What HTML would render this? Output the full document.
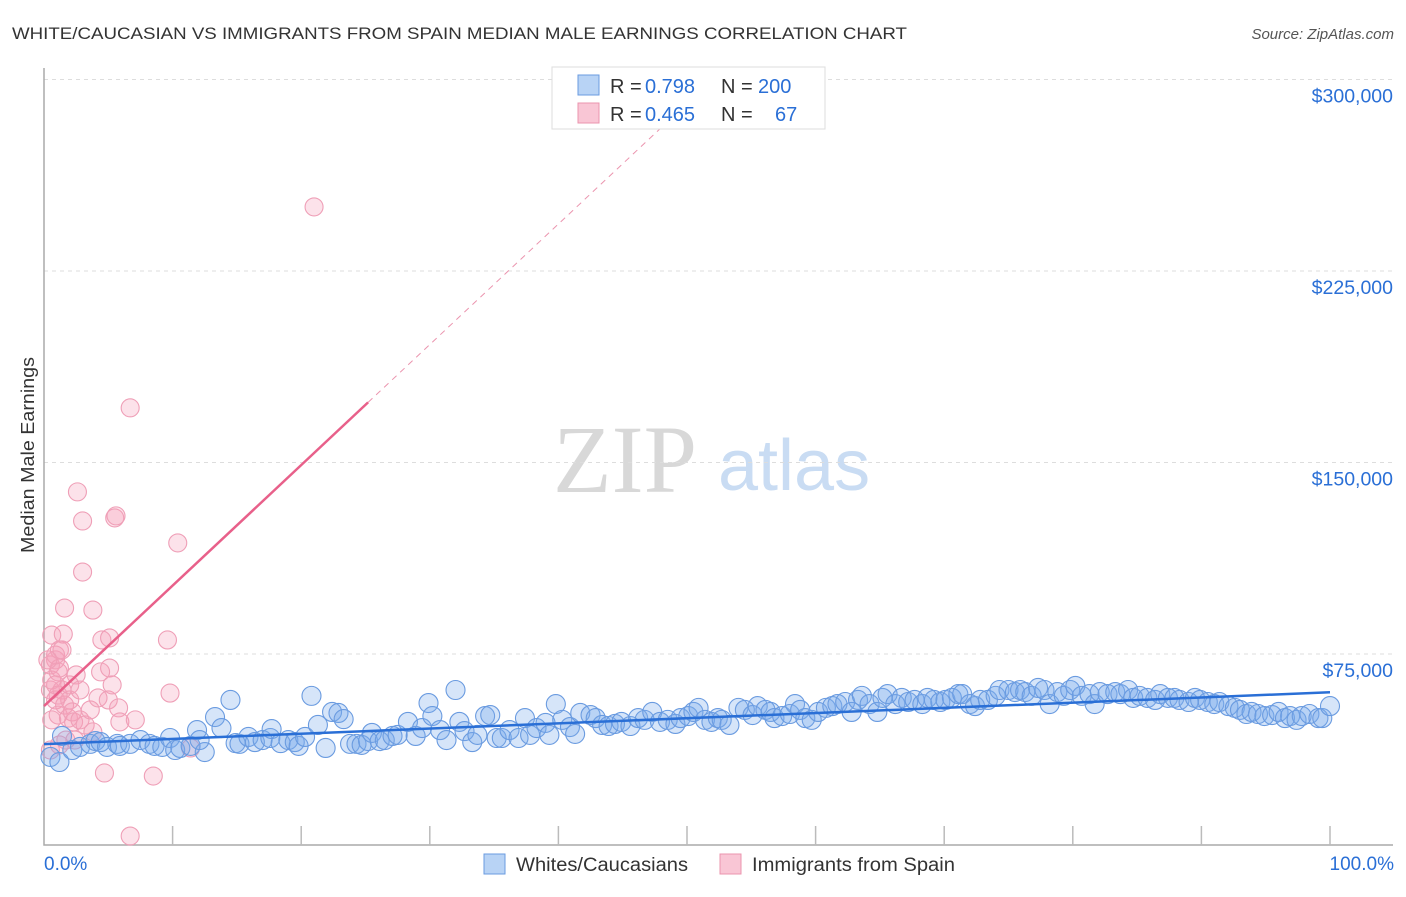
<!DOCTYPE html>
<html><head><meta charset="utf-8"><style>
body{margin:0;background:#fff;font-family:"Liberation Sans",sans-serif}
svg text{font-family:"Liberation Sans",sans-serif}
</style></head><body>
<svg id="chart" width="1406" height="892" xmlns="http://www.w3.org/2000/svg">
<text x="12" y="39" font-size="17" fill="#333" textLength="895" lengthAdjust="spacingAndGlyphs">WHITE/CAUCASIAN VS IMMIGRANTS FROM SPAIN MEDIAN MALE EARNINGS CORRELATION CHART</text>
<text x="1394" y="39" font-size="15" fill="#555" font-style="italic" text-anchor="end">Source: ZipAtlas.com</text>
<text x="34" y="553" font-size="18" fill="#333" textLength="196" lengthAdjust="spacingAndGlyphs" transform="rotate(-90 34 553)">Median Male Earnings</text>
<g>
<text x="553" y="492" font-size="96" fill="#d8d8d8" style="font-family:'Liberation Serif',serif">ZIP</text>
<text x="718" y="490" font-size="72" fill="#c9dcf3">atlas</text>
</g>
<g id="grid"></g>
<g id="axes"></g>
<g id="pinkpts"></g>
<g id="bluepts"></g>
<g id="lines"></g>
<g>
<rect x="552" y="67" width="273" height="62" fill="#fff" stroke="#ddd"/>
<rect x="578" y="75" width="21" height="20" fill="#b8d3f5" stroke="#6a9be0"/>
<rect x="578" y="103" width="21" height="20" fill="#f9c6d5" stroke="#eb94ae"/>
<text y="93" font-size="20" fill="#333"><tspan x="610">R =</tspan><tspan x="645" fill="#2a6fd6">0.798</tspan><tspan x="721">N =</tspan><tspan x="758" fill="#2a6fd6">200</tspan></text>
<text y="121" font-size="20" fill="#333"><tspan x="610">R =</tspan><tspan x="645" fill="#2a6fd6">0.465</tspan><tspan x="721">N =</tspan><tspan x="775" fill="#2a6fd6">67</tspan></text>
</g>
<g>
<rect x="484" y="854" width="21" height="20" fill="#b8d3f5" stroke="#6a9be0"/>
<text x="516" y="871" font-size="19" fill="#333" textLength="172" lengthAdjust="spacingAndGlyphs">Whites/Caucasians</text>
<rect x="720" y="854" width="21" height="20" fill="#f9c6d5" stroke="#eb94ae"/>
<text x="752" y="871" font-size="19" fill="#333" textLength="203" lengthAdjust="spacingAndGlyphs">Immigrants from Spain</text>
</g>
</svg>
<script>
const yTicks=[75000,150000,225000,300000];
const yTickLabels=["$75,000","$150,000","$225,000","$300,000"];
const xLabels=["0.0%","100.0%"];
const blueX=[0.5,1.2,1.4,2.2,2.8,3.6,4.0,4.4,4.9,5.7,5.9,6.7,7.5,8.2,8.6,9.2,9.8,10.2,10.6,11.4,11.9,12.5,12.1,13.3,13.8,14.5,14.9,15.2,15.9,16.4,17.0,17.6,17.7,18.4,19.0,19.5,19.8,20.3,20.8,21.3,21.9,22.4,22.9,23.3,23.8,24.3,24.7,25.2,25.5,26.1,26.5,27.1,27.5,28.3,28.9,29.4,29.9,30.2,30.8,31.3,32.0,32.3,32.7,33.3,33.7,34.3,34.7,35.2,35.6,36.2,36.9,37.4,37.8,38.3,39.0,39.3,39.8,40.3,40.9,41.3,41.7,42.5,42.9,43.4,43.9,44.4,44.9,45.6,46.2,46.7,47.3,47.9,48.5,49.1,49.5,50.1,50.5,50.9,51.4,51.9,52.4,52.7,53.3,54.0,54.5,55.1,55.5,56.1,56.5,56.8,57.4,58.0,58.4,58.8,59.2,59.7,60.2,60.8,61.3,61.7,62.3,62.8,63.3,63.6,64.2,64.8,65.2,65.6,66.2,66.7,67.2,67.7,68.3,68.7,69.2,69.7,70.1,70.6,71.1,71.4,72.0,72.4,72.8,73.4,74.0,74.3,75.0,75.5,75.9,76.3,76.8,77.3,77.8,78.2,78.8,79.3,79.8,80.2,80.7,81.3,81.7,82.1,82.7,83.3,83.7,84.3,84.7,85.2,85.8,86.4,86.8,87.4,87.9,88.3,89.0,89.5,89.9,90.5,91.0,91.4,92.1,92.6,93.0,93.5,93.9,94.4,94.9,95.5,96.0,96.5,96.9,97.4,97.8,98.4,99.1,99.4,100];
const blueY=[34.7,32.7,42.9,37.4,38.6,39.8,40.9,40.5,38.6,39.8,39.0,39.8,41.3,39.8,39.0,38.6,42.1,37.4,38.2,39.0,45.2,36.6,41.3,50.3,46.0,57.0,40.1,39.8,42.5,40.5,41.3,42.1,45.6,40.1,41.3,40.5,39.0,42.5,58.6,47.2,38.2,52.3,51.9,49.5,39.8,39.8,39.4,40.9,44.1,40.9,41.3,42.9,43.3,48.4,42.9,46.0,55.8,50.7,45.2,41.3,60.9,48.4,44.8,40.5,43.3,50.7,51.1,42.1,42.1,45.2,42.1,49.9,43.3,46.0,48.0,43.3,55.4,49.2,46.4,43.7,51.9,51.1,49.9,47.2,46.8,47.6,48.4,46.8,49.9,49.2,52.3,48.4,49.2,47.6,49.9,50.7,52.3,53.9,49.2,48.4,49.9,49.2,47.2,53.9,53.1,51.1,54.6,53.1,52.3,49.9,50.7,51.5,55.4,53.1,49.9,49.2,52.3,53.9,54.6,55.4,56.2,52.3,57.0,58.6,55.4,52.3,57.8,59.3,55.4,57.8,56.2,57.0,55.4,57.8,57.0,56.2,57.0,57.8,59.3,59.3,55.4,54.6,57.0,57.0,58.6,60.9,60.9,60.1,60.9,60.1,58.6,61.7,60.9,55.4,60.1,58.6,60.9,62.5,58.6,59.3,55.4,60.1,59.3,60.1,59.3,60.9,57.8,58.6,57.8,57.0,59.3,57.8,57.8,57.0,56.2,57.8,57.0,56.2,55.4,56.2,54.6,53.9,53.1,51.5,52.3,51.5,50.7,51.1,52.3,49.9,50.7,49.2,50.7,51.5,49.9,49.9,54.6];
const pinkX=[0.5,0.5,0.5,0.6,0.6,0.9,1.1,1.2,1.4,0.9,1.1,1.6,1.9,2.0,2.2,2.3,2.5,2.8,3.2,3.6,3.8,4.2,4.4,4.5,5.0,5.1,5.1,5.3,5.8,5.9,1.6,1.5,3.0,2.6,3.0,3.8,6.7,5.5,5.6,10.4,9.6,9.8,7.1,4.7,8.5,6.7,11.4,21.0,0.9,1.2,0.6,1.1,2.0,1.7,2.4,1.2,0.3,1.4,0.9,2.8];
const pinkY=[37.4,60.9,70.7,64.8,82.4,72.7,68.0,69.5,60.9,57.0,51.1,55.0,49.9,57.0,52.3,48.4,66.8,49.2,47.2,53.1,44.5,57.8,68.0,80.5,57.0,81.3,69.5,62.9,53.9,48.4,93.0,82.8,107.1,138.5,127.1,92.2,171.4,128.3,129.1,118.5,80.5,59.7,49.2,28.4,27.2,3.7,38.2,250.1,74.6,76.6,49.2,58.9,62.9,41.3,41.3,39.4,72.7,76.6,62.9,60.9];
const blueFit=[39.7,60.0];
const pinkFit=[54.6,4.72];
const pinkSolidEnd=25.2, pinkDashEnd=52;

const NS="http://www.w3.org/2000/svg";
const X0=44,X1=1330,Y0=845.5,PX=191.5/75000;
const sx=p=>X0+(X1-X0)*p/100;
const sy=v=>Y0-v*PX;
function mk(t,a,parent){const e=document.createElementNS(NS,t);for(const k in a)e.setAttribute(k,a[k]);parent.appendChild(e);return e;}
const grid=document.getElementById('grid'),axes=document.getElementById('axes');
yTicks.forEach((v,i)=>{
 const l=mk('line',{x1:X0,x2:1393,y1:sy(v),y2:sy(v),stroke:'#ddd','stroke-dasharray':'4,4'},grid);
 
 
 const t=mk('text',{x:1393,y:sy(v)+23,'font-size':19.5,fill:'#2a6fd6','text-anchor':'end'},axes);
 t.textContent=yTickLabels[i];
 
 
});
const ax=mk('path',{d:`M${X0} 68V845H1393`,stroke:'#aaa',fill:'none','stroke-width':1.5},axes);


for(let i=1;i<=10;i++){
 const tk=mk('line',{x1:sx(i*10),x2:sx(i*10),y1:826,y2:845,stroke:'#bbb','stroke-width':1.5},axes);
 
 
}
const xl0=mk('text',{x:44,y:870,'font-size':19,fill:'#2a6fd6'},axes);xl0.textContent=xLabels[0];


const xl1=mk('text',{x:1394,y:870,'font-size':19,fill:'#2a6fd6','text-anchor':'end'},axes);xl1.textContent=xLabels[1];


const pg=document.getElementById('pinkpts');
pinkX.forEach((p,i)=>{const c=mk('circle',{cx:sx(p),cy:sy(pinkY[i]*1000),r:9,fill:'rgba(245,160,185,0.3)',stroke:'#ef9fb7','stroke-width':1.1},pg);
 
 });
const bg=document.getElementById('bluepts');
blueX.forEach((p,i)=>{const c=mk('circle',{cx:sx(p),cy:sy(blueY[i]*1000),r:9.5,fill:'rgba(120,170,235,0.3)',stroke:'#6a9be0','stroke-width':1.1},bg);
 
 });
const lg=document.getElementById('lines');
const pv=p=>(pinkFit[0]+pinkFit[1]*p)*1000;
const pd=mk('line',{x1:sx(pinkSolidEnd),y1:sy(pv(pinkSolidEnd)),x2:sx(pinkDashEnd),y2:sy(pv(pinkDashEnd)),stroke:'#eb94ae','stroke-width':1,'stroke-dasharray':'6,5'},lg);


const ps=mk('line',{x1:sx(0),y1:sy(pv(0)),x2:sx(pinkSolidEnd),y2:sy(pv(pinkSolidEnd)),stroke:'#e8608a','stroke-width':2.5},lg);


const bl=mk('line',{x1:sx(0),y1:sy(blueFit[0]*1000),x2:sx(100),y2:sy(blueFit[1]*1000),stroke:'#2a6fd6','stroke-width':2.5},lg);


</script>
</body></html>
